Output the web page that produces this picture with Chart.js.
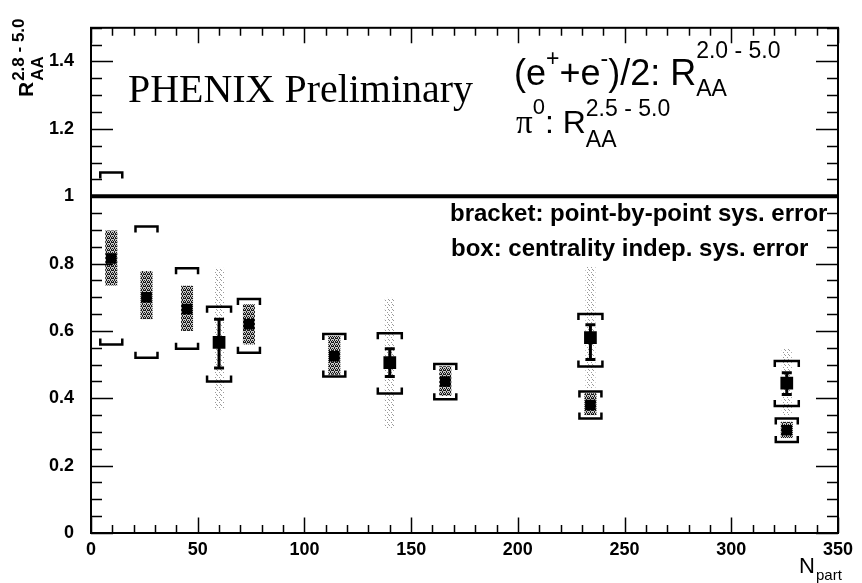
<!DOCTYPE html>
<html>
<head>
<meta charset="utf-8">
<script src="https://cdn.jsdelivr.net/npm/chart.js@4/dist/chart.umd.min.js"></script>
<style>
  html, body { margin: 0; padding: 0; background: #fff; }
  #c { display: block; }
</style>
</head>
<body>
<canvas id="c" width="862" height="583"></canvas>
<script>
// pi0 R_AA (2.5-5.0 GeV/c) versus number of participants
const pi0Npart = [9.5, 26, 45, 74, 114, 166, 234, 326];
const pi0Raa   = [0.815, 0.70, 0.665, 0.62, 0.525, 0.45, 0.38, 0.305];
const pi0BoxLo = [0.735, 0.635, 0.60, 0.56, 0.47, 0.407, 0.35, 0.282];
const pi0BoxHi = [0.898, 0.778, 0.734, 0.679, 0.585, 0.495, 0.415, 0.33];
const pi0SysLo = [0.56, 0.52, 0.547, 0.535, 0.465, 0.397, 0.34, 0.27];
const pi0SysHi = [1.07, 0.91, 0.786, 0.695, 0.591, 0.502, 0.42, 0.34];

// (e+ + e-)/2 R_AA (2.0-5.0 GeV/c)
const eNpart  = [60, 140, 234, 326];
const eRaa    = [0.566, 0.506, 0.58, 0.445];
const eStatLo = [0.49, 0.465, 0.515, 0.411];
const eStatHi = [0.635, 0.547, 0.618, 0.476];
const eSysLo  = [0.45, 0.414, 0.494, 0.377];
const eSysHi  = [0.672, 0.593, 0.65, 0.511];
const eBoxLo  = [0.367, 0.309, 0.43, 0.35];
const eBoxHi  = [0.787, 0.698, 0.79, 0.547];

// axis ticks
const xTicks = [0, 50, 100, 150, 200, 250, 300, 350];
const yTicks = [0, 0.2, 0.4, 0.6, 0.8, 1, 1.2, 1.4];
const xMinorStep = 10;
const yMinorStep = 0.05;
const unityLine = [0, 350];

const SANS = '"Liberation Sans", Arial, sans-serif';
const SERIF = '"Liberation Serif", "Times New Roman", serif';

function makePattern(ctx, w, h, pixels, color) {
  const c = document.createElement('canvas');
  c.width = w; c.height = h;
  const g = c.getContext('2d');
  g.fillStyle = color;
  pixels.forEach(([px, py]) => g.fillRect(px, py, 1, 1));
  return ctx.createPattern(c, 'repeat');
}

function bracket(ctx, x, y, half, leg, dir) {
  // dir = +1 : legs point down (upper bracket), -1 : legs point up
  ctx.beginPath();
  ctx.moveTo(x - half, y + dir * leg);
  ctx.lineTo(x - half, y);
  ctx.lineTo(x + half, y);
  ctx.lineTo(x + half, y + dir * leg);
  ctx.stroke();
}

const errorPlugin = {
  id: 'errors',
  beforeDatasetsDraw(chart) {
    const { ctx, scales: { x, y } } = chart;
    ctx.save();
    // centrality independent systematic boxes for electrons (sparse dots)
    const dots = makePattern(ctx, 4, 5, [[1, 0], [3, 2], [0, 4]], '#9a9a9a');
    eNpart.forEach((n, i) => {
      const px = x.getPixelForValue(n);
      const top = y.getPixelForValue(eBoxHi[i]);
      const bot = y.getPixelForValue(eBoxLo[i]);
      ctx.fillStyle = dots;
      ctx.fillRect(px - 5, top, 10, bot - top);
    });
    // pi0 shaded boxes
    const stip = makePattern(ctx, 4, 4,
      [[0, 0], [2, 0], [1, 1], [3, 1], [0, 2], [1, 2], [3, 2], [2, 3]], '#1a1a1a');
    pi0Npart.forEach((n, i) => {
      const px = x.getPixelForValue(n);
      const top = y.getPixelForValue(pi0BoxHi[i]);
      const bot = y.getPixelForValue(pi0BoxLo[i]);
      ctx.fillStyle = '#c8c8c8';
      ctx.fillRect(px - 6, top, 12, bot - top);
      ctx.fillStyle = stip;
      ctx.fillRect(px - 6, top, 12, bot - top);
    });
    // point-by-point systematic brackets
    ctx.strokeStyle = '#000';
    ctx.lineWidth = 2.5;
    ctx.lineJoin = 'miter';
    pi0Npart.forEach((n, i) => {
      const px = x.getPixelForValue(n);
      bracket(ctx, px, y.getPixelForValue(pi0SysHi[i]), 11, 6, 1);
      bracket(ctx, px, y.getPixelForValue(pi0SysLo[i]), 11, 6, -1);
    });
    eNpart.forEach((n, i) => {
      const px = x.getPixelForValue(n);
      bracket(ctx, px, y.getPixelForValue(eSysHi[i]), 12, 6, 1);
      bracket(ctx, px, y.getPixelForValue(eSysLo[i]), 12, 6, -1);
    });
    // statistical error bars for electrons
    ctx.lineWidth = 3;
    eNpart.forEach((n, i) => {
      const px = x.getPixelForValue(n);
      const t = y.getPixelForValue(eStatHi[i]);
      const b = y.getPixelForValue(eStatLo[i]);
      ctx.beginPath();
      ctx.moveTo(px, t); ctx.lineTo(px, b);
      ctx.moveTo(px - 5, t); ctx.lineTo(px + 5, t);
      ctx.moveTo(px - 5, b); ctx.lineTo(px + 5, b);
      ctx.stroke();
    });
    ctx.restore();
  },
  afterDraw(chart) {
    const { ctx, chartArea: a, scales: { x, y } } = chart;
    ctx.save();
    // frame
    ctx.strokeStyle = '#000';
    ctx.lineWidth = 2;
    ctx.strokeRect(a.left, a.top, a.right - a.left, a.bottom - a.top);
    // inward ticks on all four sides
    ctx.lineWidth = 1.5;
    ctx.beginPath();
    for (let v = 0; v <= 350 + 1e-6; v += xMinorStep) {
      const px = Math.round(x.getPixelForValue(v)) + 0.5;
      const len = (Math.round(v) % 50 === 0) ? 15.5 : 8;
      ctx.moveTo(px, a.bottom); ctx.lineTo(px, a.bottom - len);
      ctx.moveTo(px, a.top); ctx.lineTo(px, a.top + len);
    }
    for (let k = 0; k <= 30; k++) {
      const v = k * yMinorStep;
      const py = Math.round(y.getPixelForValue(v)) + 0.5;
      const len = (k % 4 === 0) ? 22 : 11;
      ctx.moveTo(a.left, py); ctx.lineTo(a.left + len, py);
      ctx.moveTo(a.right, py); ctx.lineTo(a.right - len, py);
    }
    ctx.stroke();

    ctx.fillStyle = '#000';
    ctx.textBaseline = 'alphabetic';
    ctx.textAlign = 'left';

    // y axis title R_AA^{2.8 - 5.0}
    ctx.save();
    ctx.translate(33, 97);
    ctx.rotate(-Math.PI / 2);
    ctx.font = 'bold 21px ' + SANS;
    ctx.fillText('R', 0, 0);
    const rw = ctx.measureText('R').width;
    ctx.font = 'bold 17px ' + SANS;
    ctx.fillText('2.8 - 5.0', rw + 1, -9);
    ctx.fillText('AA', rw + 1, 10);
    ctx.restore();

    // x axis title N_part
    ctx.font = '22px ' + SANS;
    ctx.fillText('N', 799, 573);
    ctx.font = '15px ' + SANS;
    ctx.fillText('part', 816, 580);

    // PHENIX Preliminary
    ctx.font = '40px ' + SERIF;
    ctx.fillText('PHENIX Preliminary', 128, 102, 345);

    // (e+ + e-)/2 : R_AA^{2.0 - 5.0}
    let cx = 514, base = 85;
    function put(txt, font, dy) {
      ctx.font = font;
      ctx.fillText(txt, cx, base + dy);
      cx += ctx.measureText(txt).width;
    }
    const big = '36px ' + SANS, small = '23px ' + SANS;
    put('(e', big, 0);
    put('+', small, -19);
    put('+e', big, 0);
    put('-', small, -19);
    put(')/2: R', big, 0);
    let sx = cx;
    put('2.0 - 5.0', small, -27);
    cx = sx;
    put('AA', small, 11);

    // pi0 : R_AA^{2.5 - 5.0}
    cx = 516; base = 133;
    put('\u03c0', '33px ' + SERIF, 0);
    put('0', '22px ' + SANS, -19);
    put(': R', '32px ' + SANS, 0);
    sx = cx;
    put('2.5 - 5.0', '23px ' + SANS, -17);
    cx = sx;
    put('AA', '23px ' + SANS, 14);

    // legend notes
    ctx.font = 'bold 24px ' + SANS;
    ctx.fillText('bracket: point-by-point sys. error', 450, 221, 383);
    ctx.fillText('box: centrality indep. sys. error', 451, 256, 362);
    ctx.restore();
  }
};

new Chart(document.getElementById('c'), {
  type: 'scatter',
  data: {
    datasets: [
      {
        label: 'unity',
        data: unityLine.map(v => ({ x: v, y: 1 })),
        showLine: true,
        borderColor: '#000',
        borderWidth: 4,
        pointRadius: 0
      },
      {
        label: 'pi0',
        data: pi0Npart.map((n, i) => ({ x: n, y: pi0Raa[i] })),
        pointStyle: 'rect',
        radius: 7.5,
        backgroundColor: '#000',
        borderColor: '#000',
        borderWidth: 0
      },
      {
        label: 'electrons',
        data: eNpart.map((n, i) => ({ x: n, y: eRaa[i] })),
        pointStyle: 'rect',
        radius: 9,
        backgroundColor: '#000',
        borderColor: '#000',
        borderWidth: 0
      }
    ]
  },
  options: {
    responsive: false,
    animation: false,
    events: [],
    layout: { padding: { top: 18, right: 24, left: 0, bottom: 0 } },
    plugins: { legend: { display: false }, tooltip: { enabled: false } },
    scales: {
      x: {
        type: 'linear', min: 0, max: 350,
        afterBuildTicks: s => { s.ticks = xTicks.map(v => ({ value: v })); },
        afterFit: s => { s.height = 50; },
        grid: { display: false, drawTicks: false },
        border: { display: false },
        ticks: {
          padding: 6, color: '#000', maxRotation: 0, autoSkip: false,
          font: { family: SANS, weight: 'bold', size: 18 },
          callback: v => String(v)
        }
      },
      y: {
        type: 'linear', min: 0, max: 1.5,
        afterBuildTicks: s => { s.ticks = yTicks.map(v => ({ value: v })); },
        afterFit: s => { s.width = 91; },
        grid: { display: false, drawTicks: false },
        border: { display: false },
        ticks: {
          padding: 17, color: '#000', autoSkip: false,
          font: { family: SANS, weight: 'bold', size: 18 },
          callback: v => String(Math.round(v * 10) / 10)
        }
      }
    }
  },
  plugins: [errorPlugin]
});
</script>
</body>
</html>
